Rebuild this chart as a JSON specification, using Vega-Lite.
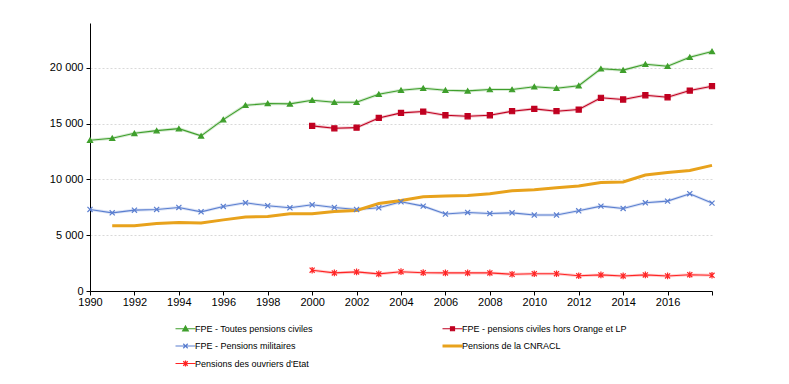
{
  "$schema": "https://vega.github.io/schema/vega-lite/v6.json",
  "autosize": {"type": "none"},
  "width": 622,
  "height": 268,
  "padding": {"left": 90, "top": 23, "right": 77, "bottom": 93},
  "background": "white",
  "config": {
    "view": {"stroke": null},
    "font": "Liberation Sans",
    "axis": {"labelFont": "Liberation Sans", "labelFontSize": 11, "labelColor": "#000", "domainColor": "#000", "tickColor": "#000", "titleFont": "Liberation Sans"},
    "legend": {"labelFont": "Liberation Sans", "labelFontSize": 9, "labelColor": "#000"}
  },
  "data": {"values": [
    {"year":1990,"series":"FPE - Toutes pensions civiles","value":13500},
    {"year":1991,"series":"FPE - Toutes pensions civiles","value":13680},
    {"year":1992,"series":"FPE - Toutes pensions civiles","value":14120},
    {"year":1993,"series":"FPE - Toutes pensions civiles","value":14360},
    {"year":1994,"series":"FPE - Toutes pensions civiles","value":14540},
    {"year":1995,"series":"FPE - Toutes pensions civiles","value":13890},
    {"year":1996,"series":"FPE - Toutes pensions civiles","value":15350},
    {"year":1997,"series":"FPE - Toutes pensions civiles","value":16630},
    {"year":1998,"series":"FPE - Toutes pensions civiles","value":16790},
    {"year":1999,"series":"FPE - Toutes pensions civiles","value":16760},
    {"year":2000,"series":"FPE - Toutes pensions civiles","value":17080},
    {"year":2001,"series":"FPE - Toutes pensions civiles","value":16900},
    {"year":2002,"series":"FPE - Toutes pensions civiles","value":16900},
    {"year":2003,"series":"FPE - Toutes pensions civiles","value":17620},
    {"year":2004,"series":"FPE - Toutes pensions civiles","value":17980},
    {"year":2005,"series":"FPE - Toutes pensions civiles","value":18160},
    {"year":2006,"series":"FPE - Toutes pensions civiles","value":17980},
    {"year":2007,"series":"FPE - Toutes pensions civiles","value":17920},
    {"year":2008,"series":"FPE - Toutes pensions civiles","value":18040},
    {"year":2009,"series":"FPE - Toutes pensions civiles","value":18040},
    {"year":2010,"series":"FPE - Toutes pensions civiles","value":18290},
    {"year":2011,"series":"FPE - Toutes pensions civiles","value":18160},
    {"year":2012,"series":"FPE - Toutes pensions civiles","value":18380},
    {"year":2013,"series":"FPE - Toutes pensions civiles","value":19900},
    {"year":2014,"series":"FPE - Toutes pensions civiles","value":19780},
    {"year":2015,"series":"FPE - Toutes pensions civiles","value":20310},
    {"year":2016,"series":"FPE - Toutes pensions civiles","value":20130},
    {"year":2017,"series":"FPE - Toutes pensions civiles","value":20940},
    {"year":2018,"series":"FPE - Toutes pensions civiles","value":21450},
    {"year":2000,"series":"FPE - pensions civiles hors Orange et LP","value":14790},
    {"year":2001,"series":"FPE - pensions civiles hors Orange et LP","value":14570},
    {"year":2002,"series":"FPE - pensions civiles hors Orange et LP","value":14630},
    {"year":2003,"series":"FPE - pensions civiles hors Orange et LP","value":15500},
    {"year":2004,"series":"FPE - pensions civiles hors Orange et LP","value":15950},
    {"year":2005,"series":"FPE - pensions civiles hors Orange et LP","value":16070},
    {"year":2006,"series":"FPE - pensions civiles hors Orange et LP","value":15740},
    {"year":2007,"series":"FPE - pensions civiles hors Orange et LP","value":15650},
    {"year":2008,"series":"FPE - pensions civiles hors Orange et LP","value":15740},
    {"year":2009,"series":"FPE - pensions civiles hors Orange et LP","value":16100},
    {"year":2010,"series":"FPE - pensions civiles hors Orange et LP","value":16310},
    {"year":2011,"series":"FPE - pensions civiles hors Orange et LP","value":16100},
    {"year":2012,"series":"FPE - pensions civiles hors Orange et LP","value":16250},
    {"year":2013,"series":"FPE - pensions civiles hors Orange et LP","value":17300},
    {"year":2014,"series":"FPE - pensions civiles hors Orange et LP","value":17150},
    {"year":2015,"series":"FPE - pensions civiles hors Orange et LP","value":17530},
    {"year":2016,"series":"FPE - pensions civiles hors Orange et LP","value":17350},
    {"year":2017,"series":"FPE - pensions civiles hors Orange et LP","value":17950},
    {"year":2018,"series":"FPE - pensions civiles hors Orange et LP","value":18340},
    {"year":1990,"series":"FPE - Pensions militaires","value":7300},
    {"year":1991,"series":"FPE - Pensions militaires","value":7000},
    {"year":1992,"series":"FPE - Pensions militaires","value":7240},
    {"year":1993,"series":"FPE - Pensions militaires","value":7300},
    {"year":1994,"series":"FPE - Pensions militaires","value":7480},
    {"year":1995,"series":"FPE - Pensions militaires","value":7090},
    {"year":1996,"series":"FPE - Pensions militaires","value":7570},
    {"year":1997,"series":"FPE - Pensions militaires","value":7900},
    {"year":1998,"series":"FPE - Pensions militaires","value":7630},
    {"year":1999,"series":"FPE - Pensions militaires","value":7450},
    {"year":2000,"series":"FPE - Pensions militaires","value":7720},
    {"year":2001,"series":"FPE - Pensions militaires","value":7480},
    {"year":2002,"series":"FPE - Pensions militaires","value":7300},
    {"year":2003,"series":"FPE - Pensions militaires","value":7450},
    {"year":2004,"series":"FPE - Pensions militaires","value":7990},
    {"year":2005,"series":"FPE - Pensions militaires","value":7600},
    {"year":2006,"series":"FPE - Pensions militaires","value":6890},
    {"year":2007,"series":"FPE - Pensions militaires","value":7030},
    {"year":2008,"series":"FPE - Pensions militaires","value":6940},
    {"year":2009,"series":"FPE - Pensions militaires","value":7000},
    {"year":2010,"series":"FPE - Pensions militaires","value":6800},
    {"year":2011,"series":"FPE - Pensions militaires","value":6800},
    {"year":2012,"series":"FPE - Pensions militaires","value":7180},
    {"year":2013,"series":"FPE - Pensions militaires","value":7600},
    {"year":2014,"series":"FPE - Pensions militaires","value":7390},
    {"year":2015,"series":"FPE - Pensions militaires","value":7900},
    {"year":2016,"series":"FPE - Pensions militaires","value":8050},
    {"year":2017,"series":"FPE - Pensions militaires","value":8710},
    {"year":2018,"series":"FPE - Pensions militaires","value":7870},
    {"year":1991,"series":"Pensions de la CNRACL","value":5840},
    {"year":1992,"series":"Pensions de la CNRACL","value":5840},
    {"year":1993,"series":"Pensions de la CNRACL","value":6040},
    {"year":1994,"series":"Pensions de la CNRACL","value":6130},
    {"year":1995,"series":"Pensions de la CNRACL","value":6100},
    {"year":1996,"series":"Pensions de la CNRACL","value":6370},
    {"year":1997,"series":"Pensions de la CNRACL","value":6620},
    {"year":1998,"series":"Pensions de la CNRACL","value":6670},
    {"year":1999,"series":"Pensions de la CNRACL","value":6910},
    {"year":2000,"series":"Pensions de la CNRACL","value":6910},
    {"year":2001,"series":"Pensions de la CNRACL","value":7120},
    {"year":2002,"series":"Pensions de la CNRACL","value":7210},
    {"year":2003,"series":"Pensions de la CNRACL","value":7840},
    {"year":2004,"series":"Pensions de la CNRACL","value":8110},
    {"year":2005,"series":"Pensions de la CNRACL","value":8440},
    {"year":2006,"series":"Pensions de la CNRACL","value":8500},
    {"year":2007,"series":"Pensions de la CNRACL","value":8560},
    {"year":2008,"series":"Pensions de la CNRACL","value":8710},
    {"year":2009,"series":"Pensions de la CNRACL","value":8980},
    {"year":2010,"series":"Pensions de la CNRACL","value":9070},
    {"year":2011,"series":"Pensions de la CNRACL","value":9250},
    {"year":2012,"series":"Pensions de la CNRACL","value":9400},
    {"year":2013,"series":"Pensions de la CNRACL","value":9720},
    {"year":2014,"series":"Pensions de la CNRACL","value":9760},
    {"year":2015,"series":"Pensions de la CNRACL","value":10390},
    {"year":2016,"series":"Pensions de la CNRACL","value":10620},
    {"year":2017,"series":"Pensions de la CNRACL","value":10800},
    {"year":2018,"series":"Pensions de la CNRACL","value":11250},
    {"year":2000,"series":"Pensions des ouvriers d'Etat","value":1860},
    {"year":2001,"series":"Pensions des ouvriers d'Etat","value":1620},
    {"year":2002,"series":"Pensions des ouvriers d'Etat","value":1710},
    {"year":2003,"series":"Pensions des ouvriers d'Etat","value":1530},
    {"year":2004,"series":"Pensions des ouvriers d'Etat","value":1730},
    {"year":2005,"series":"Pensions des ouvriers d'Etat","value":1640},
    {"year":2006,"series":"Pensions des ouvriers d'Etat","value":1620},
    {"year":2007,"series":"Pensions des ouvriers d'Etat","value":1620},
    {"year":2008,"series":"Pensions des ouvriers d'Etat","value":1620},
    {"year":2009,"series":"Pensions des ouvriers d'Etat","value":1500},
    {"year":2010,"series":"Pensions des ouvriers d'Etat","value":1550},
    {"year":2011,"series":"Pensions des ouvriers d'Etat","value":1550},
    {"year":2012,"series":"Pensions des ouvriers d'Etat","value":1370},
    {"year":2013,"series":"Pensions des ouvriers d'Etat","value":1440},
    {"year":2014,"series":"Pensions des ouvriers d'Etat","value":1350},
    {"year":2015,"series":"Pensions des ouvriers d'Etat","value":1440},
    {"year":2016,"series":"Pensions des ouvriers d'Etat","value":1350},
    {"year":2017,"series":"Pensions des ouvriers d'Etat","value":1460},
    {"year":2018,"series":"Pensions des ouvriers d'Etat","value":1410}
  ]},
  "encoding": {
    "x": {"field": "year", "type": "quantitative",
      "scale": {"domain": [1990, 2018], "nice": false, "zero": false},
      "axis": {"title": null, "values": [1990,1992,1994,1996,1998,2000,2002,2004,2006,2008,2010,2012,2014,2016,2018], "labelExpr": "datum.value == 2018 ? '' : datum.value", "grid": false, "tickSize": 4, "labelPadding": 1, "labelFlush": false}},
    "y": {"field": "value", "type": "quantitative",
      "scale": {"domain": [0, 24000], "nice": false},
      "axis": {"title": null, "values": [0,5000,10000,15000,20000], "labelExpr": "replace(format(datum.value, ','), ',', ' ')", "grid": true, "gridColor": "#cfcfcf", "gridDash": [2,2], "gridWidth": 0.8, "tickSize": 4, "labelPadding": 3}},
    "color": {"field": "series", "type": "nominal",
      "scale": {"domain": ["FPE - Toutes pensions civiles","FPE - pensions civiles hors Orange et LP","FPE - Pensions militaires","Pensions de la CNRACL","Pensions des ouvriers d'Etat"],
                "range": ["#3f9f2c","#c00020","#5b7fd0","#e8a21c","#ff2424"]},
      "legend": {"orient": "none", "legendX": 91, "legendY": 301, "direction": "horizontal", "columns": 2, "columnPadding": 123, "rowPadding": 5.5, "title": null, "symbolSize": 256, "labelOffset": 5, "labelFontSize": 9, "labelLimit": 300,
        "encode": {"symbols": {"update": {
          "shape": {"signal": "['M-1.25,0H1.25M0,-0.35L0.35,0.27L-0.35,0.27Z','M-1.25,0H1.25M-0.25,-0.25H0.25V0.25H-0.25Z','M-1.25,0H1.25M-0.28,-0.28L0.28,0.28M-0.28,0.28L0.28,-0.28','M-1.25,0H1.25','M-1.25,0H1.25M-0.28,-0.28L0.28,0.28M-0.28,0.28L0.28,-0.28M0,-0.36V0.36'][datum.index]"},
          "fill": {"scale": "color", "field": "value"},
          "stroke": {"scale": "color", "field": "value"},
          "strokeWidth": {"signal": "datum.index === 3 ? 3 : 1.2"},
          "opacity": {"value": 1}
        }}}}
    }
  },
  "layer": [
    {"transform": [{"filter": "datum.series !== 'Pensions de la CNRACL'"}],
     "mark": {"type": "line", "strokeWidth": 3, "opacity": 0.22}},
    {"transform": [{"filter": "datum.series !== 'Pensions de la CNRACL'"}],
     "mark": {"type": "line", "strokeWidth": 1.1}},
    {"transform": [{"filter": "datum.series === 'Pensions de la CNRACL'"}],
     "mark": {"type": "line", "strokeWidth": 3}},
    {"transform": [{"filter": "datum.series !== 'Pensions de la CNRACL'"}],
     "mark": {"type": "point", "filled": false, "strokeWidth": 1.2, "opacity": 1, "size": 26},
     "encoding": {
       "shape": {"field": "series", "type": "nominal", "legend": null,
         "scale": {"domain": ["FPE - Toutes pensions civiles","FPE - pensions civiles hors Orange et LP","FPE - Pensions militaires","Pensions des ouvriers d'Etat"],
                   "range": ["triangle-up","square","M-1,-1L1,1M-1,1L1,-1","M-1,-1L1,1M-1,1L1,-1M0,-1.3V1.3"]}},
       "fill": {"field": "series", "type": "nominal", "legend": null,
         "scale": {"domain": ["FPE - Toutes pensions civiles","FPE - pensions civiles hors Orange et LP","FPE - Pensions militaires","Pensions des ouvriers d'Etat"],
                   "range": ["#3f9f2c","#c00020","#5b7fd0","#ff2424"]}}
     }}
  ]
}
